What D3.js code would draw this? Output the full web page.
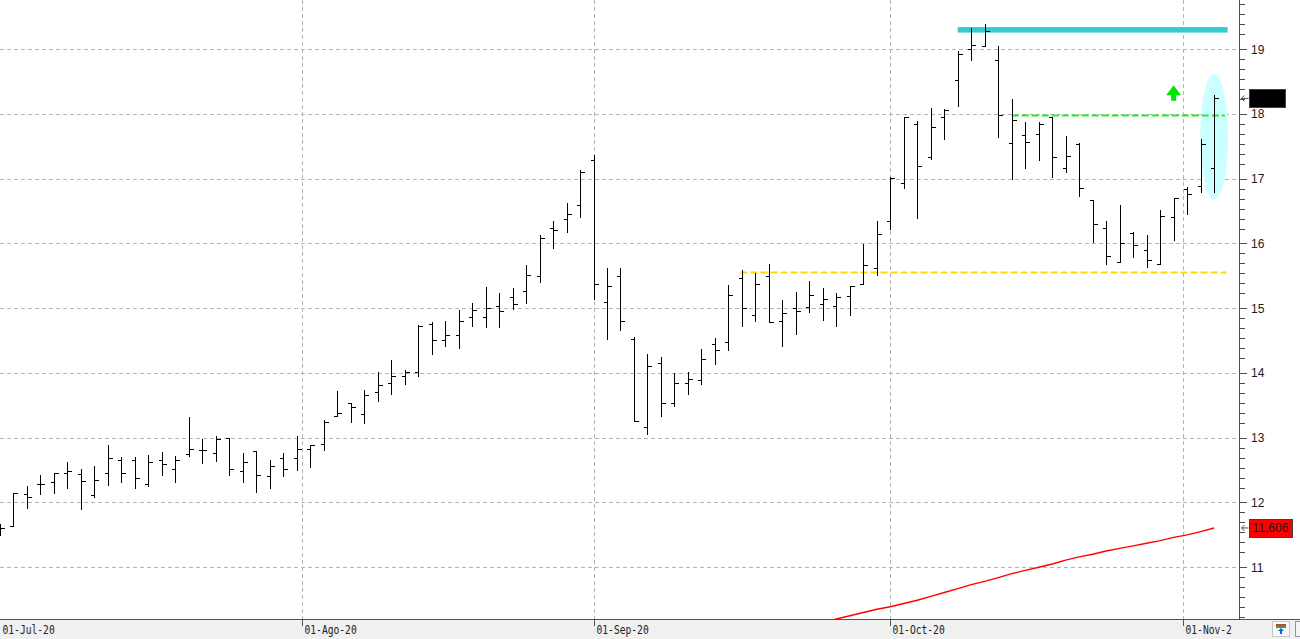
<!DOCTYPE html>
<html>
<head>
<meta charset="utf-8">
<title>Chart</title>
<script src="https://d3js.org/d3.v7.min.js"></script>
<style>
  body { margin: 0; background: #fff; font-family: "Liberation Sans", Arial, sans-serif; }
</style>
</head>
<body>
<div id="chart"></div>
<script>
var width = 1300;
var height = 639;
var plotW = 1239;
var plotH = 619;

// ----- Data (daily OHLC, one bar per trading day from 01-Jul-20) -----
var opens = [11.55, 11.64, 12.13, 12.29, 12.31, 12.45, 12.44, 12.12, 12.45, 12.65,
  12.65, 12.28, 12.65, 12.51, 12.75, 12.81, 12.77, 13.00, 12.48, 12.79,
  12.41, 12.68, 12.68, 12.82, 12.90, 13.33, 13.53, 13.36, 13.70, 13.84,
  13.96, 14.01, 14.75, 14.51, 14.58, 14.86, 14.87, 15.04, 15.17, 15.26,
  15.49, 16.24, 16.38, 16.60, 17.29, 15.09, 15.50, 14.53, 13.16, 14.16,
  13.53, 13.85, 13.89, 14.45, 14.48, 15.46, 14.90, 15.49, 14.81, 15.01,
  15.02, 15.07, 15.03, 15.19, 15.38, 15.62, 16.35, 16.93, 17.84, 17.33,
  17.95, 18.53, 19.00, 19.05, 18.83, 17.55, 17.67, 17.69, 17.95, 17.16,
  17.54, 16.67, 16.24, 15.71, 16.16, 15.90, 15.68, 16.41, 16.84, 16.89, 17.16];
var highs = [11.66, 12.15, 12.26, 12.43, 12.45, 12.62, 12.51, 12.56, 12.89, 12.70,
  12.70, 12.74, 12.78, 12.71, 13.32, 12.98, 13.02, 13.00, 12.76, 12.79,
  12.65, 12.77, 13.02, 12.88, 13.28, 13.72, 13.54, 13.74, 14.01, 14.20,
  14.04, 14.74, 14.79, 14.80, 14.97, 15.08, 15.32, 15.24, 15.31, 15.67,
  16.13, 16.34, 16.63, 17.14, 17.37, 15.62, 15.62, 14.55, 14.30, 14.24,
  14.00, 14.02, 14.37, 14.54, 15.36, 15.59, 15.55, 15.69, 15.12, 15.25,
  15.42, 15.31, 15.23, 15.35, 15.99, 16.34, 17.02, 17.96, 17.89, 18.09,
  18.07, 18.97, 19.33, 19.39, 19.05, 18.23, 17.88, 17.87, 17.96, 17.66,
  17.55, 16.67, 16.34, 16.60, 16.18, 16.13, 16.51, 16.70, 16.87, 17.62, 18.29];
var lows = [11.50, 11.64, 11.91, 12.13, 12.14, 12.22, 11.90, 12.09, 12.27, 12.31,
  12.22, 12.26, 12.42, 12.31, 12.72, 12.61, 12.64, 12.42, 12.32, 12.16,
  12.22, 12.41, 12.50, 12.55, 12.81, 13.33, 13.25, 13.22, 13.56, 13.67,
  13.83, 13.96, 14.30, 14.41, 14.39, 14.72, 14.71, 14.71, 14.99, 15.08,
  15.41, 15.93, 16.18, 16.41, 15.14, 14.53, 14.66, 13.26, 13.06, 13.34,
  13.49, 13.68, 13.83, 14.14, 14.36, 14.73, 14.80, 14.79, 14.42, 14.60,
  14.94, 14.82, 14.73, 14.90, 15.38, 15.51, 16.23, 16.85, 16.39, 17.31,
  17.62, 18.12, 18.84, 19.05, 17.65, 17.00, 17.17, 17.29, 17.02, 17.10,
  16.73, 16.02, 15.68, 15.71, 15.79, 15.63, 15.68, 16.06, 16.45, 16.79, 16.79];
var closes = [11.60, 12.15, 12.09, 12.29, 12.45, 12.48, 12.33, 12.35, 12.68, 12.45,
  12.37, 12.63, 12.59, 12.65, 12.82, 12.81, 12.98, 12.51, 12.63, 12.43,
  12.57, 12.52, 12.83, 12.88, 13.25, 13.38, 13.47, 13.66, 13.81, 13.96,
  14.01, 14.73, 14.51, 14.58, 14.80, 14.98, 15.00, 14.95, 15.07, 15.51,
  16.09, 16.21, 16.46, 17.11, 15.38, 15.35, 14.81, 13.26, 14.10, 13.53,
  13.84, 13.91, 14.22, 14.36, 15.21, 15.01, 15.38, 14.79, 14.92, 14.95,
  15.21, 15.14, 15.18, 15.35, 15.66, 16.15, 17.01, 17.96, 17.20, 17.80,
  18.06, 18.93, 19.07, 19.28, 17.98, 17.90, 17.56, 17.85, 17.34, 17.35,
  16.85, 16.30, 15.80, 16.00, 15.98, 15.75, 16.42, 16.70, 16.77, 17.54, 18.24];

// long moving average, visible from bar 61 onwards
var maFirstBar = 61;
var maValues = [10.15, 10.20, 10.25, 10.30, 10.35, 10.39, 10.44, 10.49, 10.55, 10.61,
  10.67, 10.73, 10.78, 10.84, 10.90, 10.95, 11.00, 11.05, 11.11, 11.16,
  11.20, 11.25, 11.29, 11.33, 11.37, 11.41, 11.46, 11.50, 11.55, 11.606];

var monthLabels = ['01-Jul-20', '01-Ago-20', '01-Sep-20', '01-Oct-20', '01-Nov-2'];
var monthBars = [0, 22.4, 44, 66, 87.7];
var priceTicks = [11, 12, 13, 14, 15, 16, 17, 18, 19];

// drawn annotations: [value, first bar, last bar]
var topBand = [19.30, 71, 91];
var supportLine = [15.55, 54.9, 90.9];
var breakoutLine = [17.975, 75, 90.8];
var signalBar = 87;
var signalValue = 18.32;
var highlightBar = 90;
var highlightRange = [16.68, 18.62];

// ----- Helpers -----
function addRect(ctx, x, y, w, h, c, atts) {
  var obj = ctx.append('rect')
    .attr('x', x).attr('y', y)
    .attr('width', w).attr('height', h)
    .attr('fill', c);
  if (atts) { for (var att of atts) obj.attr(...att); }
  return obj;
}

function addLine(ctx, x1, y1, x2, y2, c, atts) {
  var obj = ctx.append('line')
    .attr('stroke', c)
    .attr('x1', x1).attr('y1', y1)
    .attr('x2', x2).attr('y2', y2);
  if (atts) { for (var att of atts) obj.attr(...att); }
  return obj;
}

// ----- Main -----
var svg = d3.select('#chart').append('svg')
  .attr('width', width)
  .attr('height', height);

var x = d3.scaleLinear().domain([0, 90]).range([-0.1, 1214.1]);
var y = d3.scaleLinear().domain([10.2, 19.76]).range([plotH, 0]);
var px = function (v) { return Math.round(v) + 0.5; };

addRect(svg, 0, 0, width, height, '#ffffff');

svg.append('defs').append('clipPath').attr('id', 'plot')
  .append('rect').attr('x', 0).attr('y', 0).attr('width', plotW).attr('height', plotH);

var plot = svg.append('g').attr('clip-path', 'url(#plot)');

// grid
var gridAtts = [['stroke-dasharray', '4,3'], ['stroke-width', 1], ['shape-rendering', 'crispEdges']];
priceTicks.forEach(function (t) {
  addLine(plot, 0, px(y(t)), plotW, px(y(t)), '#b4b4b4', gridAtts);
});
monthBars.slice(1).forEach(function (b) {
  addLine(plot, px(x(b)), 0, px(x(b)), plotH, '#b4b4b4', gridAtts);
});

// highlight ellipse behind the last bars
plot.append('ellipse')
  .attr('cx', x(highlightBar))
  .attr('cy', (y(highlightRange[0]) + y(highlightRange[1])) / 2)
  .attr('rx', x(highlightBar + 1.03) - x(highlightBar))
  .attr('ry', (y(highlightRange[0]) - y(highlightRange[1])) / 2)
  .attr('fill', '#ccffff');

// moving average
var maLine = d3.line()
  .x(function (d, i) { return x(maFirstBar + i); })
  .y(function (d) { return y(d); });
plot.append('path')
  .datum(maValues)
  .attr('d', maLine)
  .attr('fill', 'none')
  .attr('stroke', '#ff0000')
  .attr('stroke-width', 1.4);

// level lines
addLine(plot, x(supportLine[1]), y(supportLine[0]), x(supportLine[2]), y(supportLine[0]), '#ffd700',
  [['stroke-width', 2], ['stroke-dasharray', '7,3']]);
addLine(plot, x(breakoutLine[1]), y(breakoutLine[0]), x(breakoutLine[2]), y(breakoutLine[0]), '#2ee62e',
  [['stroke-width', 2], ['stroke-dasharray', '7,3']]);
addRect(plot, x(topBand[1]), y(topBand[0]) - 2.7, x(topBand[2]) - x(topBand[1]), 5.5, '#33cccc');

// OHLC bars
var bars = plot.append('g')
  .attr('stroke', '#000')
  .attr('stroke-width', 1)
  .attr('shape-rendering', 'crispEdges');
opens.forEach(function (o, i) {
  var cx = px(x(i));
  addLine(bars, cx, Math.round(y(highs[i])), cx, Math.round(y(lows[i])) + 1, '#000');
  addLine(bars, cx - 4, px(y(o)), cx, px(y(o)), '#000');
  addLine(bars, cx, px(y(closes[i])), cx + 4, px(y(closes[i])), '#000');
});

// signal arrow
var ax = x(signalBar), ay = y(signalValue);
svg.append('path')
  .attr('d', 'M' + (ax - 7.5) + ',' + (ay + 2) + ' L' + ax + ',' + (ay - 8) + ' L' + (ax + 7.5) + ',' + (ay + 2) +
    ' L' + (ax + 2.5) + ',' + (ay + 2) + ' L' + (ax + 2.5) + ',' + (ay + 7.5) +
    ' L' + (ax - 2.5) + ',' + (ay + 7.5) + ' L' + (ax - 2.5) + ',' + (ay + 2) + 'Z')
  .attr('fill', '#00e600');

// bottom axis strip
addRect(svg, 0, plotH, width, height - plotH, '#f0f0f0');
addLine(svg, 0, plotH + 0.5, width, plotH + 0.5, '#505050', [['shape-rendering', 'crispEdges']]);
monthBars.forEach(function (b, i) {
  var tx = px(x(b));
  if (i > 0) addLine(svg, tx, plotH, tx, plotH + 7, '#505050', [['shape-rendering', 'crispEdges']]);
  svg.append('text')
    .attr('x', Math.max(1, tx + 2))
    .attr('y', 633.5)
    .attr('font-family', '"DejaVu Sans Mono", "Liberation Mono", monospace')
    .attr('font-size', 12)
    .attr('fill', '#222')
    .attr('textLength', monthLabels[i].length * 5.8)
    .attr('lengthAdjust', 'spacingAndGlyphs')
    .text(monthLabels[i]);
});

// right price axis
var axis = svg.append('g').attr('transform', 'translate(' + (plotW + 0.5) + ',0)');
addLine(axis, 0, 0, 0, plotH, '#505050', [['shape-rendering', 'crispEdges']]);
d3.range(10, 21).forEach(function (t) {
  for (var k = 1; k <= 5; k++) {
    var my = y(t - k / 6.5);
    if (my > 0 && my < plotH) addLine(axis, 0, px(my), 5, px(my), '#505050', [['shape-rendering', 'crispEdges']]);
  }
});
priceTicks.forEach(function (t) {
  addLine(axis, 0, px(y(t)), 7, px(y(t)), '#505050', [['shape-rendering', 'crispEdges']]);
  axis.append('text')
    .attr('x', 11.5)
    .attr('y', y(t) + 4.5)
    .attr('font-size', 12)
    .attr('fill', '#1a1a1a')
    .text(t);
});

// value markers on the price axis
function marker(v, fill) {
  var my = y(v);
  axis.append('path')
    .attr('d', 'M9,' + my + ' H2 M5,' + (my - 3) + ' L2,' + my + ' L5,' + (my + 3))
    .attr('fill', 'none').attr('stroke', '#505050').attr('stroke-width', 1);
  return addRect(axis, 10, Math.round(my - 9) + 0.5, 0, 18, fill, [['stroke', '#404040'], ['stroke-width', 1]]);
}
marker(closes[closes.length - 1], '#000000').attr('width', 36);
marker(maValues[maValues.length - 1], '#ff0000').attr('width', 43);
axis.append('text')
  .attr('x', 13)
  .attr('y', y(maValues[maValues.length - 1]) + 4.5)
  .attr('font-size', 12)
  .attr('fill', '#1a1a1a')
  .text(d3.format('.3f')(maValues[maValues.length - 1]).replace('.', ','));

// small toolbar icons bottom right
addRect(svg, 1272.5, 621.5, 17, 15, '#f8f8f8', [['stroke', '#c8c8c8']]);
addRect(svg, 1276, 624, 10, 2, '#d04030');
addRect(svg, 1276, 626, 10, 2, '#40a040');
svg.append('path').attr('d', 'M1278,631 L1281,628 L1284,631 Z M1280,631 h2 v3 h-2 Z').attr('fill', '#1060e0');
addRect(svg, 1295.5, 621.5, 10, 15, '#f4f4f4', [['stroke', '#9090c0']]);
</script>
</body>
</html>
